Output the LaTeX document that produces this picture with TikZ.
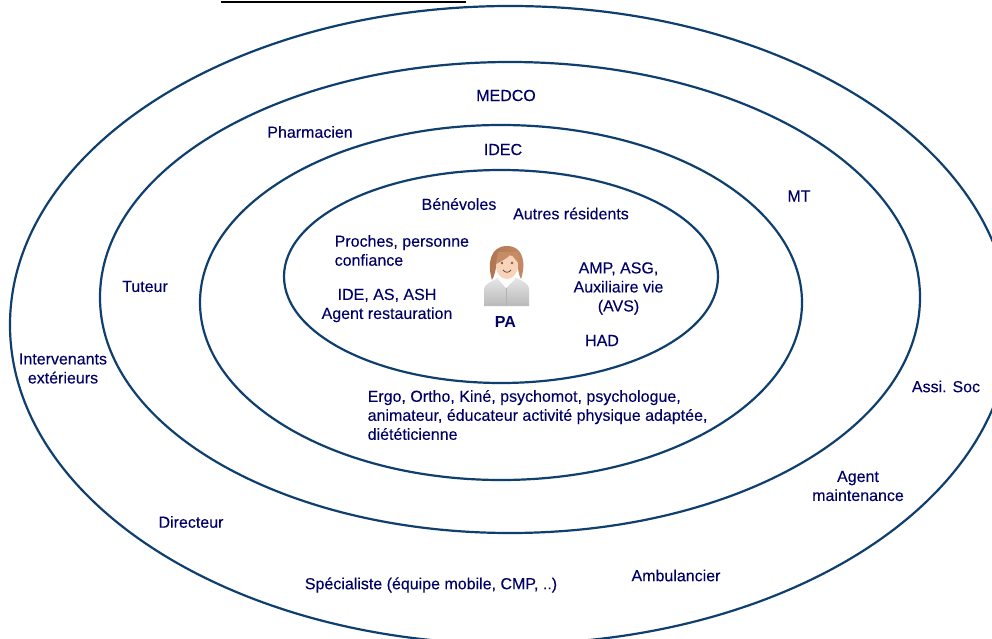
\documentclass[tikz,border=0pt]{standalone}
\usepackage{fontspec}
\setmainfont[FakeBold=0.12]{Liberation Sans}
\newfontfamily\boldlab{Liberation Sans}
\definecolor{ringblue}{HTML}{0F3F6E}
\definecolor{labelblue}{HTML}{000066}
\definecolor{hairc}{HTML}{C68C66}
\definecolor{hairdark}{HTML}{AE7350}
\definecolor{skinc}{HTML}{F9D2B8}
\definecolor{shirtc}{HTML}{DADADA}
\tikzset{
  ring/.style={draw=ringblue,line width=2.2pt,fill=none},
  lab/.style={text=labelblue,font=\fontsize{16}{19}\selectfont,inner sep=0pt,align=center},
  labl/.style={lab,align=left},
}
\begin{document}
\begin{tikzpicture}[x=1pt,y=-1pt]
\useasboundingbox (0,0) rectangle (992,639);
\clip (0,0) rectangle (992,639);
\fill[white] (0,0) rectangle (992,639);
\draw[black,line width=2pt] (221,2.5) -- (466,2.5);
\draw[ring] (510,325) ellipse [x radius=500,y radius=319];
\draw[ring] (510,297.5) ellipse [x radius=410,y radius=235.5];
\draw[ring] (501,302.5) ellipse [x radius=301,y radius=177.5];
\draw[ring] (501,276.5) ellipse [x radius=217,y radius=106.5];
% person
\begin{scope}
\shade[top color=shirtc!70!white,bottom color=shirtc!85!black] (484,306) -- (484,290) .. controls (484,283) and (492,282) .. (498,278) -- (517,278) .. controls (523,282) and (529,283) .. (529,290) -- (529,306) -- cycle;
\fill[white!92!shirtc] (498,279) -- (506,288) -- (515,279) -- (512,276) -- (501,276) -- cycle;
\draw[gray!60,line width=.5pt] (506.5,288) -- (506.5,306);
\shade[left color=hairdark,right color=hairc] (492,280) .. controls (487,264) and (490,246) .. (507,246) .. controls (524,246) and (526,264) .. (521,279) .. controls (518,274) and (518,264) .. (515,258) -- (497,262) .. controls (496,268) and (495,275) .. (492,280) -- cycle;
\fill[skinc] (507,255) .. controls (516,255) and (519,262) .. (518,267) .. controls (517,274) and (512,279) .. (507,279) .. controls (501,279) and (497,274) .. (496,267) .. controls (496,261) and (499,256) .. (507,255) -- cycle;
\fill[hairc] (496,264) .. controls (500,262) and (508,258) .. (511,254) .. controls (514,258) and (517,261) .. (519,264) -- (518,252) -- (498,252) -- cycle;
\fill[gray!80!black] (502,263) circle (1.4) (512,263) circle (1.4);
\draw[gray!60!black,line width=.8pt] (503,270) .. controls (505,273) and (509,273) .. (511,270);
\end{scope}
\node[lab,font=\boldlab\fontsize{16}{19}\selectfont\bfseries] (pa) at (505.5,322) {PA};
\node[lab] (medco) at (506,95.5) {MEDCO};
\node[lab] (pharma) at (310,132) {Pharmacien};
\node[lab] (idec) at (503,149.5) {IDEC};
\node[lab] (mt) at (799,196) {MT};
\node[lab] (bene) at (459,204) {Bénévoles};
\node[lab] (autres) at (571,213.5) {Autres résidents};
\node[labl,anchor=west] (proches) at (334.5,250.5) {Proches, personne\\confiance};
\node[lab] (tuteur) at (145,286.5) {Tuteur};
\node[lab] (amp) at (618.5,288.5) {AMP, ASG,\\Auxiliaire vie\\(AVS)};
\node[lab] (ide) at (387,305.5) {IDE, AS, ASH\\Agent restauration};
\node[lab] (had) at (602,340.5) {HAD};
\node[lab] (interv) at (63,368.5) {Intervenants\\extérieurs};
\node[lab] (assi) at (946,386.5) {Assi. Soc};
\node[labl,anchor=west] (ergo) at (367.5,415) {Ergo, Ortho, Kiné, psychomot, psychologue,\\animateur, éducateur activité physique adaptée,\\diététicienne};
\node[lab] (agent) at (858,486) {Agent\\maintenance};
\node[lab] (dir) at (191,522) {Directeur};
\node[lab] (amb) at (676,575.5) {Ambulancier};
\node[lab] (spec) at (431,585) {Spécialiste (équipe mobile, CMP, ..)};
\end{tikzpicture}
\end{document}
